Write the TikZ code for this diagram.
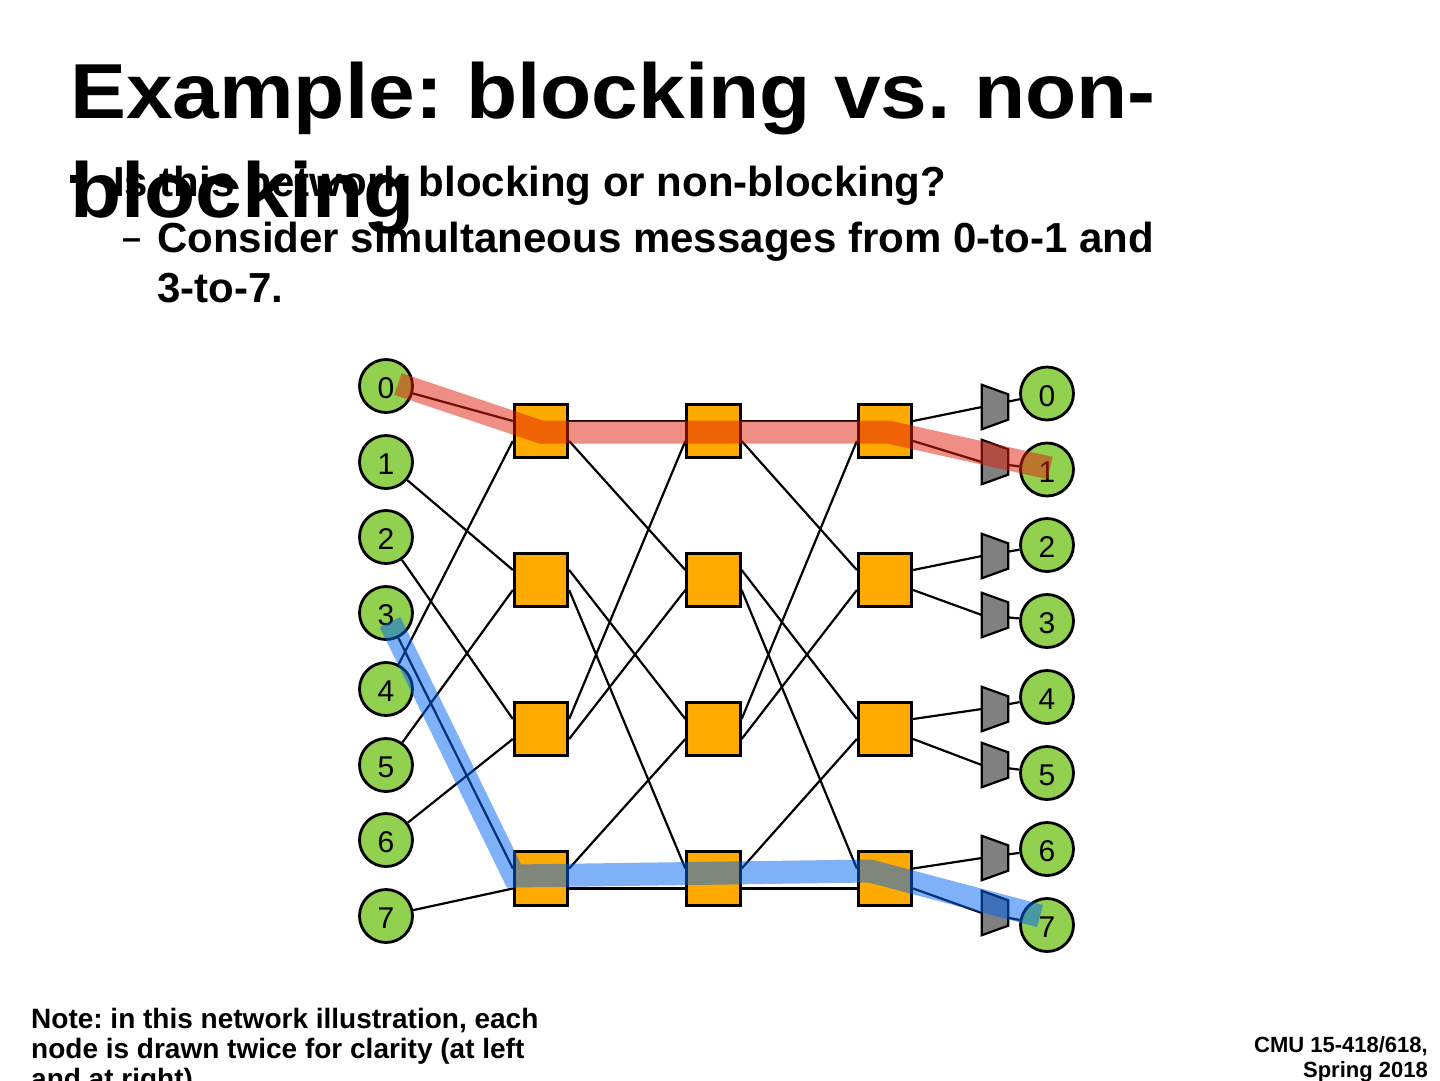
\documentclass[tikz,border=0pt]{standalone}
\usepackage{fontspec}
\setmainfont{Liberation Sans}
\usetikzlibrary{calc}
\definecolor{cgreen}{RGB}{146,208,80}
\definecolor{corange}{RGB}{255,170,0}
\definecolor{cgray}{RGB}{128,128,128}
\definecolor{cred}{RGB}{225,30,10}
\definecolor{cblue}{RGB}{0,100,245}
\frenchspacing
\begin{document}
\begin{tikzpicture}[x=1pt,y=-1pt,
  term/.style={circle, draw=black, line width=2.8pt, fill=cgreen, minimum size=53pt,
    inner sep=0pt, text height=25pt, text depth=0pt, font=\fontsize{30}{30}\selectfont},
  sw/.style={rectangle, draw=black, line width=2.8pt, fill=corange, minimum size=53.5pt, inner sep=0pt},
  link/.style={draw=black, line width=2.2pt},
  tslot/.style={rectangle, minimum width=26pt, minimum height=44pt, inner sep=0pt},
  trapfill/.style={draw=black, line width=2.2pt, fill=cgray, line join=miter},
  band/.style={line width=23pt, opacity=0.5},
  txt/.style={anchor=base west, inner sep=0pt},
]
\useasboundingbox (0,0) rectangle (1440,1080);
\clip (0,0) rectangle (1440,1080);
\fill[white] (0,0) rectangle (1440,1080);

% ---------- text ----------
\node[txt, font=\fontsize{78}{78}\selectfont\bfseries] (title1) at (70,118) {\scalebox{1.075}[1]{Example: blocking vs. non-}};
\node[fill=black, minimum size=8pt, inner sep=0pt] (bullet) at (74,179) {};
\node[txt, font=\fontsize{42}{42}\selectfont\bfseries] (bul) at (113,196) {Is this network blocking or non-blocking?};
\node[txt, font=\fontsize{78}{78}\selectfont\bfseries] (title2) at (70,217) {\scalebox{1.075}[1]{blocking}};
\node[txt, font=\fontsize{34}{34}\selectfont\bfseries] (dash) at (122,249) {–};
\node[txt, font=\fontsize{42}{42}\selectfont\bfseries] (sub1) at (157,252) {Consider simultaneous messages from 0-to-1 and};
\node[txt, font=\fontsize{42}{42}\selectfont\bfseries] (sub2) at (157,302) {3-to-7.};

\node[txt, font=\fontsize{28}{28}\selectfont\bfseries] (note1) at (31,1028) {Note: in this network illustration, each};
\node[txt, font=\fontsize{28}{28}\selectfont\bfseries] (note2) at (31,1058) {node is drawn twice for clarity (at left};
\node[txt, font=\fontsize{28}{28}\selectfont\bfseries] (note3) at (31,1088) {and at right)};

\node[anchor=base east, inner sep=0pt, font=\fontsize{22}{22}\selectfont\bfseries] (foot1) at (1428,1052) {CMU 15-418/618,};
\node[anchor=base east, inner sep=0pt, font=\fontsize{22}{22}\selectfont\bfseries] (foot2) at (1428,1077) {Spring 2018};

% ---------- switches ----------
\foreach \c/\x in {1/541,2/713.5,3/885}{
  \foreach \r/\y in {0/431,1/580,2/729,3/878.5}{
    \node[sw] (S\c\r) at (\x,\y) {};
    \coordinate (S\c\r-iu) at ($(S\c\r.west)+(0,-10)$);
    \coordinate (S\c\r-il) at ($(S\c\r.west)+(0,10)$);
    \coordinate (S\c\r-ou) at ($(S\c\r.east)+(0,-10)$);
    \coordinate (S\c\r-ol) at ($(S\c\r.east)+(0,10)$);
  }
}

% ---------- left terminals ----------
\foreach \i/\y in {0/386,1/462,2/537,3/613,4/689,5/765,6/840,7/916}{
  \node[term] (L\i) at (386,\y) {\i};
}

% ---------- right terminals and output stages ----------
\foreach \i/\y/\ty in {0/393.5/407,1/469.5/462,2/545/556,3/621/615,4/697/709,5/773/765,6/849/858,7/925/913}{
  \node[term] (R\i) at (1047,\y) {\i};
  \node[tslot] (T\i) at (995,\ty) {};
  \draw[trapfill] (T\i.north west) -- ($(T\i.north east)+(0,9.5)$) -- ($(T\i.south east)+(0,-9.5)$) -- (T\i.south west) -- cycle;
  \pgfmathsetmacro{\dy}{0.4*(\y-\ty)}
  \coordinate (Tk\i) at ($(T\i.east)+(0,\dy)$);
  \draw[link] (Tk\i) -- (R\i);
}

% ---------- links: terminals -> stage 1 ----------
\foreach \a/\b in {0/0,1/1,2/2,3/3}{ \draw[link] (L\a) -- (S1\b-iu); }
\foreach \a/\b in {4/0,5/1,6/2,7/3}{ \draw[link] (L\a) -- (S1\b-il); }

% ---------- links: stage 1 -> 2 -> 3 ----------
\foreach \a/\p/\b/\q in {0/u/0/u, 0/l/1/u, 1/u/2/u, 1/l/3/u, 2/u/0/l, 2/l/1/l, 3/u/2/l, 3/l/3/l}{
  \draw[link] (S1\a-o\p) -- (S2\b-i\q);
  \draw[link] (S2\a-o\p) -- (S3\b-i\q);
}

% ---------- links: stage 3 -> outputs ----------
\foreach \a/\p/\t in {0/u/0, 0/l/1, 1/u/2, 1/l/3, 2/u/4, 2/l/5, 3/u/6, 3/l/7}{
  \draw[link] (S3\a-o\p) -- (T\t.west);
}

% ---------- highlighted routes ----------
\coordinate (ra) at (398,384);
\coordinate (rb) at (541,432);
\coordinate (rc) at (888,432);
\coordinate (rd) at (1050,468);
\draw[band, draw=cred] (ra) -- (rb) -- (rc) -- (rd);
\coordinate (ba) at (390,622);
\coordinate (bb) at (514,876);
\coordinate (bc) at (870,871);
\coordinate (bd) at (1040,916);
\draw[band, draw=cblue] (ba) -- (bb) -- (bc) -- (bd);
\end{tikzpicture}
\end{document}
